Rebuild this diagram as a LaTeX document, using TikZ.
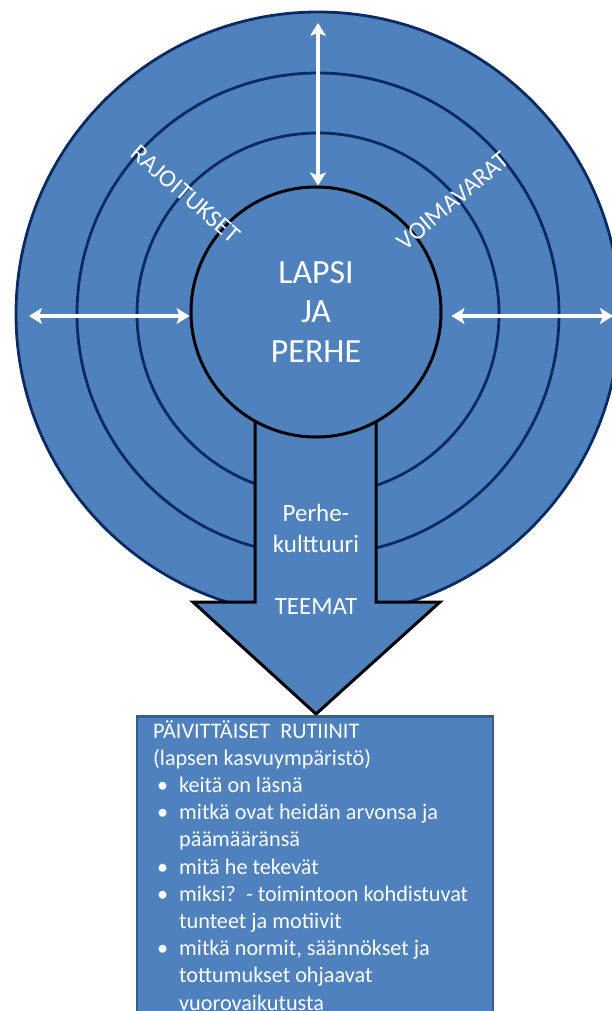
\documentclass[tikz,border=0pt]{standalone}
\usepackage{fontspec}
\setmainfont{Carlito}
\usepackage{tikz}
\usetikzlibrary{arrows.meta}
\usepackage{xcolor}
\definecolor{fillblue}{HTML}{4F81BD}
\definecolor{ringblue}{HTML}{0B2A63}
\definecolor{boxedge}{HTML}{385D8A}
\tikzset{
  ring/.style={draw=ringblue, line width=2.8bp},
  twoway/.style={draw=white, line width=3.5bp,
    {Stealth[length=13bp,width=16bp,inset=3bp]}-{Stealth[length=13bp,width=16bp,inset=3bp]}},
  wtext/.style={text=white, align=center}
}
\newcommand{\bul}{\hspace*{4bp}\makebox[22bp][l]{\textbullet}}
\newcommand{\cont}{\hspace*{26bp}}

\begin{document}
\begin{tikzpicture}[x=1bp, y=-1bp]
        \clip (0,0) rectangle (612,1011);
        \coordinate (C) at (318,314);
        \fill[fillblue] (C) circle (302);
        \draw[ring] (C) circle (302);
        \draw[ring] (C) circle (241);
        \draw[ring] (C) circle (181);
        \draw[fill=fillblue, line width=3bp, line join=miter]
          (255,380) -- (255,602) -- (193,602) -- (316,714) -- (440,602) -- (376,602) -- (376,380) -- cycle;
        \node (lapsi) at (316,312) [circle, draw=black, line width=3bp, fill=fillblue, minimum size=250bp,
          wtext, font=\fontsize{34}{40}\selectfont] {LAPSI\\JA\\PERHE};
        \coordinate (up) at (318,23);
        \coordinate (west) at (29,316);
        \coordinate (east) at (613,316);
        \draw[twoway] (up) -- (up |- lapsi.north);
        \draw[twoway] (west) -- (west -| lapsi.west);
        \draw[twoway, shorten >=9bp] (east) -- (east -| lapsi.east);
        \node (rajoitukset) at (186,194) [wtext, rotate=-41, font=\fontsize{25}{28}\selectfont] {RAJOITUKSET};
        \node (voimavarat) at (453,201) [wtext, rotate=40, font=\fontsize{25}{28}\selectfont] {VOIMAVARAT};
        \node (kulttuuri) at (316,528) [wtext, font=\fontsize{25}{31}\selectfont] {Perhe-\\kulttuuri};
        \node (teemat) at (316,607) [wtext, font=\fontsize{25}{31}\selectfont] {TEEMAT};
        \node (box) at (315,715) [anchor=north, draw=boxedge, line width=2.5bp, fill=fillblue,
          minimum width=356bp, minimum height=340bp] {};
        \node (arki) at (153,1010) [anchor=base west, inner sep=0pt, text=white, align=left,
          font=\fontsize{22.3}{27.3}\selectfont]
          {PÄIVITTÄISET\ \ RUTIINIT\\
           (lapsen kasvuympäristö)\\
           \bul keitä on läsnä\\
           \bul mitkä ovat heidän arvonsa ja\\
           \cont päämääränsä\\
           \bul mitä he tekevät\\
           \bul miksi?\ \ - toimintoon kohdistuvat\\
           \cont tunteet ja motiivit\\
           \bul mitkä normit, säännökset ja\\
           \cont tottumukset ohjaavat\\
           \cont vuorovaikutusta};
\end{tikzpicture}
\end{document}
